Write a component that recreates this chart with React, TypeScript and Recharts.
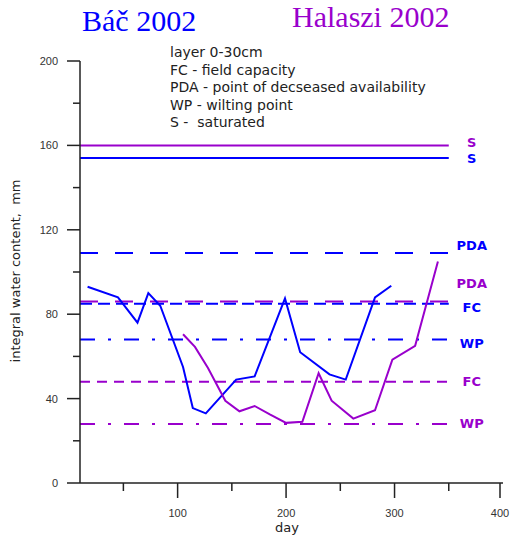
import React from 'react';
import { LineChart, Line, XAxis, YAxis, ReferenceLine } from 'recharts';

// Báč 2002 measurements
const bacDays = [17, 45, 63, 73, 84, 105, 114, 126, 154, 171, 199, 213, 240, 255, 282, 297];
const bacWater = [93, 88, 76, 90, 84, 55, 35.5, 33, 49, 50.5, 87.5, 62, 51.5, 49, 88, 93.5];

// Halaszi 2002 measurements
const halDays = [105, 116, 128, 144, 157, 171, 185, 200, 215, 230, 242, 262, 282, 298, 319, 340];
const halWater = [70.5, 64.5, 54.5, 39, 34, 36.5, 32.5, 28.5, 29, 52, 39, 30.5, 34.5, 58.5, 65, 105];

// hydrolimits: S, PDA, FC, WP
const levelNames = ['S', 'PDA', 'FC', 'WP'];
const bacLevels = [154, 109, 85, 68];
const halLevels = [160, 86, 48, 28];
const levelFrom = 10;
const levelTo = 350;

const xTicks = [50, 100, 150, 200, 250, 300, 350, 400];
const yTicks = [0, 20, 40, 60, 80, 100, 120, 140, 160, 180, 200];

const notes = [
  'layer 0-30cm',
  'FC - field capacity',
  'PDA - point of decseased availability',
  'WP - wilting point',
  'S -  saturated',
];

const BLUE = '#0000FF';
const PURPLE = '#9900CC';
const AXIS = '#222222';
const SANS = '"DejaVu Sans", sans-serif';
const TICKFONT = '"Liberation Sans", Arial, sans-serif';

// line styles per level (S, PDA, FC, WP)
const bacDash = ['', '18 17', '12 6', '15 13 3 13'];
const halDash = ['', '18 17', '10 7', '15 13 3 13'];
const bacLabelDy = [0, -8, 3, 3];
const halLabelDy = [-3, -19, -1, -1];

const bacData = bacDays.map((d, i) => ({ day: d, w: bacWater[i] }));
const halData = halDays.map((d, i) => ({ day: d, w: halWater[i] }));

const YTick = ({ x, y, payload }: any) => {
  const major = payload.value % 40 === 0;
  return (
    <g>
      <line x1={x - (major ? 13 : 7)} x2={x} y1={y} y2={y} stroke={AXIS} strokeWidth={1.5} />
      {major && (
        <text x={x - 22} y={y} dy={4} textAnchor="end" fontSize={11} fill="#333" fontFamily={TICKFONT}>
          {payload.value}
        </text>
      )}
    </g>
  );
};

const XTick = ({ x, y, payload }: any) => {
  const major = payload.value % 100 === 0;
  return (
    <g>
      <line x1={x} x2={x} y1={y} y2={y + (major ? 15 : 8)} stroke={AXIS} strokeWidth={1.5} />
      {major && (
        <text x={x} y={y + 34} textAnchor="middle" fontSize={11} fill="#333" fontFamily={TICKFONT}>
          {payload.value}
        </text>
      )}
    </g>
  );
};

const levelLabel = (text: string, color: string, dy: number) => (props: any) => {
  const vb = props.viewBox;
  return (
    <text
      x={vb.x + vb.width + 23}
      y={vb.y + dy}
      dy={5}
      textAnchor="middle"
      fontSize={13}
      fontWeight="bold"
      fill={color}
      fontFamily={SANS}
    >
      {text}
    </text>
  );
};

export default function App() {
  return (
    <div style={{ position: 'absolute', left: 0, top: 0, width: 512, height: 537, background: '#fff' }}>
      <LineChart width={512} height={537} margin={{ top: 61, right: 9, bottom: 0, left: 0 }}>
        <XAxis
          dataKey="day"
          type="number"
          domain={[10, 400]}
          ticks={xTicks}
          allowDataOverflow
          height={54}
          tickLine={false}
          tickSize={0}
          tickMargin={0}
          tick={<XTick />}
          axisLine={{ stroke: AXIS, strokeWidth: 1.5 }}
        />
        <YAxis
          type="number"
          domain={[0, 200]}
          ticks={yTicks}
          width={80}
          tickLine={false}
          tickSize={0}
          tickMargin={0}
          tick={<YTick />}
          axisLine={{ stroke: AXIS, strokeWidth: 1.5 }}
        />
        {levelNames.map((n, i) => (
          <ReferenceLine
            key={'h' + n}
            segment={[{ x: levelFrom, y: halLevels[i] }, { x: levelTo, y: halLevels[i] }]}
            stroke={PURPLE}
            strokeWidth={2}
            strokeDasharray={halDash[i] || undefined}
            label={levelLabel(n, PURPLE, halLabelDy[i])}
          />
        ))}
        {levelNames.map((n, i) => (
          <ReferenceLine
            key={'b' + n}
            segment={[{ x: levelFrom, y: bacLevels[i] }, { x: levelTo, y: bacLevels[i] }]}
            stroke={BLUE}
            strokeWidth={2}
            strokeDasharray={bacDash[i] || undefined}
            label={levelLabel(n, BLUE, bacLabelDy[i])}
          />
        ))}
        <Line data={bacData} dataKey="w" stroke={BLUE} strokeWidth={2} dot={false} isAnimationActive={false} />
        <Line data={halData} dataKey="w" stroke={PURPLE} strokeWidth={2} dot={false} isAnimationActive={false} />
      </LineChart>
      <svg width={512} height={537} style={{ position: 'absolute', left: 0, top: 0, pointerEvents: 'none' }}>
        <text x={82} y={31} fontSize={30} fill={BLUE} fontFamily='"Liberation Serif", "Times New Roman", serif'>
          Báč 2002
        </text>
        <text x={292} y={27} fontSize={30} fill={PURPLE} fontFamily='"Liberation Serif", "Times New Roman", serif'>
          Halaszi 2002
        </text>
        {notes.map((t, i) => (
          <text key={t} x={170} y={57 + i * 17.6} fontSize={14} fill="#222" fontFamily={SANS} style={{ whiteSpace: 'pre' }}>
            {t}
          </text>
        ))}
        <text
          x={0}
          y={0}
          transform="translate(20 271) rotate(-90)"
          textAnchor="middle"
          fontSize={13}
          fill="#222"
          fontFamily={SANS}
          style={{ whiteSpace: 'pre' }}
        >
          integral water content,  mm
        </text>
        <text x={287} y={532} textAnchor="middle" fontSize={13} fill="#222" fontFamily={SANS}>
          day
        </text>
      </svg>
    </div>
  );
}
